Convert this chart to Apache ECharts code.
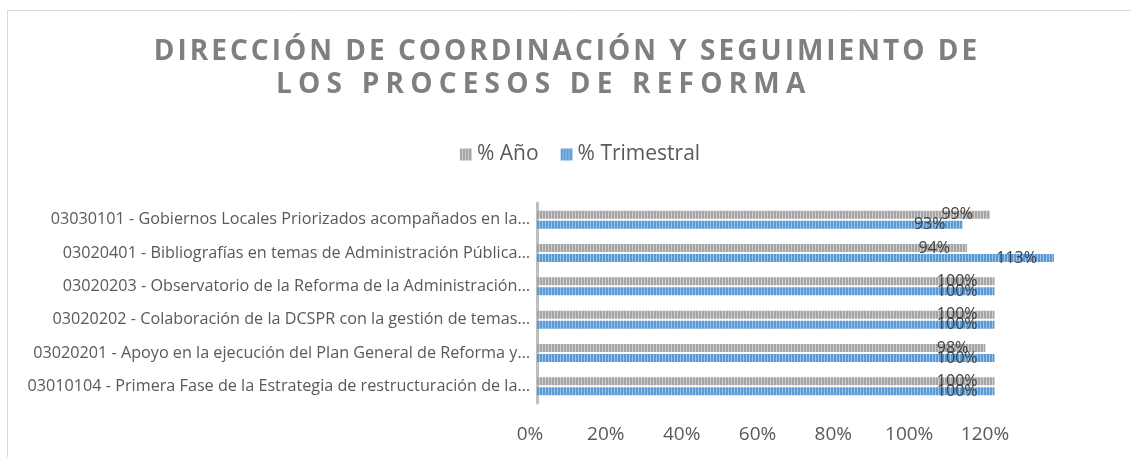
<!DOCTYPE html>
<html>
<head>
<meta charset="utf-8">
<title>Dirección de Coordinación y Seguimiento</title>
<script src="https://cdn.jsdelivr.net/npm/echarts@6/dist/echarts.min.js"></script>
<style>
    html, body { margin: 0; padding: 0; background: #fff; }
    #main { width: 1131px; height: 457px; }
</style>
</head>
<body>
<div id="main"></div>
<script>
// categorias de abajo hacia arriba (como en el eje del grafico)
const categorias = [
    '03010104 - Primera Fase de la Estrategia de restructuración de la…',
    '03020201 - Apoyo en la ejecución del Plan General de Reforma y…',
    '03020202 - Colaboración de la DCSPR con la gestión de temas…',
    '03020203 - Observatorio de la Reforma de la Administración…',
    '03020401 - Bibliografías en temas de Administración Pública…',
    '03030101 - Gobiernos Locales Priorizados acompañados en la…'
]
const porcAnio = [100, 98, 100, 100, 94, 99]
const porcTrimestral = [100, 100, 100, 100, 113, 93]
const ticksX = [0, 20, 40, 60, 80, 100, 120]
const titulo = ['DIRECCIÓN DE COORDINACIÓN Y SEGUIMIENTO DE', 'LOS PROCESOS DE REFORMA']

//relleno con rayas verticales como el patron de excel
function rayas(base, claro) {
    const c = document.createElement('canvas')
    c.width = 3
    c.height = 4
    const ctx = c.getContext('2d')
    ctx.fillStyle = base
    ctx.fillRect(0, 0, 3, 4)
    ctx.fillStyle = claro
    ctx.fillRect(2, 0, 1, 4)
    return { image: c, repeat: 'repeat' }
}

//el titulo va letra por letra para poder separar las letras
function letras(linea) {
    return linea.split('').map(ch => '{t|' + ch + '}').join('')
}
function estiloTitulo(sep) {
    return {
        rich: {
            t: {
                fontFamily: fuente,
                fontWeight: 'bold',
                fontSize: 28,
                lineHeight: 32,
                color: '#7f7f7f',
                padding: [0, sep]
            }
        }
    }
}

const fuente = '"Open Sans", sans-serif'
const chart = echarts.init(document.getElementById('main'))
chart.setOption({
    backgroundColor: '#fff',
    animation: false,
    title: [
        { text: letras(titulo[0]), left: 'center', top: 31, textStyle: estiloTitulo(1.5) },
        { text: letras(titulo[1]), left: 268, top: 64, textStyle: estiloTitulo(3.1) }
    ],
    legend: {
        data: ['% Año', '% Trimestral'],
        left: 455,
        top: 139,
        icon: 'rect',
        itemWidth: 12,
        itemHeight: 12,
        itemGap: 22,
        textStyle: { fontFamily: fuente, fontSize: 21, color: '#595959' }
    },
    graphic: [{
        type: 'rect',
        shape: { x: 7.5, y: 10.5, width: 1300, height: 600 },
        style: { fill: 'none', stroke: '#d9d9d9', lineWidth: 1 },
        silent: true
    }],
    grid: [
        { left: 537, right: 45, top: 203, bottom: 54 },
        //solo para las etiquetas del eje x, que en la imagen no coinciden con las barras
        { left: 530, right: 146, top: 203, bottom: 54 }
    ],
    xAxis: [
        {
            gridIndex: 0, type: 'value', min: 0, max: 120,
            axisLine: { show: false }, axisTick: { show: false },
            axisLabel: { show: false }, splitLine: { show: false }
        },
        {
            gridIndex: 1, type: 'value', min: ticksX[0], max: ticksX[ticksX.length - 1], interval: 20,
            axisLine: { show: false }, axisTick: { show: false }, splitLine: { show: false },
            axisLabel: {
                formatter: '{value}%', margin: 22,
                fontFamily: fuente, fontSize: 19, color: '#595959'
            }
        }
    ],
    yAxis: [
        {
            gridIndex: 0, type: 'category', data: categorias,
            axisLine: { lineStyle: { color: '#bfbfbf', width: 3 } },
            axisTick: { show: false },
            axisLabel: { margin: 7, fontFamily: fuente, fontSize: 16.2, color: '#595959' }
        },
        { gridIndex: 1, type: 'value', show: false }
    ],
    series: [
        {
            name: '% Año',
            type: 'bar',
            data: porcAnio,
            barWidth: 8,
            barGap: '25%',
            itemStyle: { color: rayas('#a5a5a5', '#cfcfcf') },
            label: {
                show: true, position: 'insideRight', distance: 17, formatter: '{c}%',
                fontFamily: fuente, fontSize: 16, color: '#404040'
            }
        },
        {
            name: '% Trimestral',
            type: 'bar',
            data: porcTrimestral,
            barWidth: 8,
            barGap: '25%',
            itemStyle: { color: rayas('#5b9bd5', '#9dc3e6') },
            label: {
                show: true, position: 'insideRight', distance: 17, formatter: '{c}%',
                fontFamily: fuente, fontSize: 16, color: '#404040'
            }
        }
    ]
})
</script>
</body>
</html>
